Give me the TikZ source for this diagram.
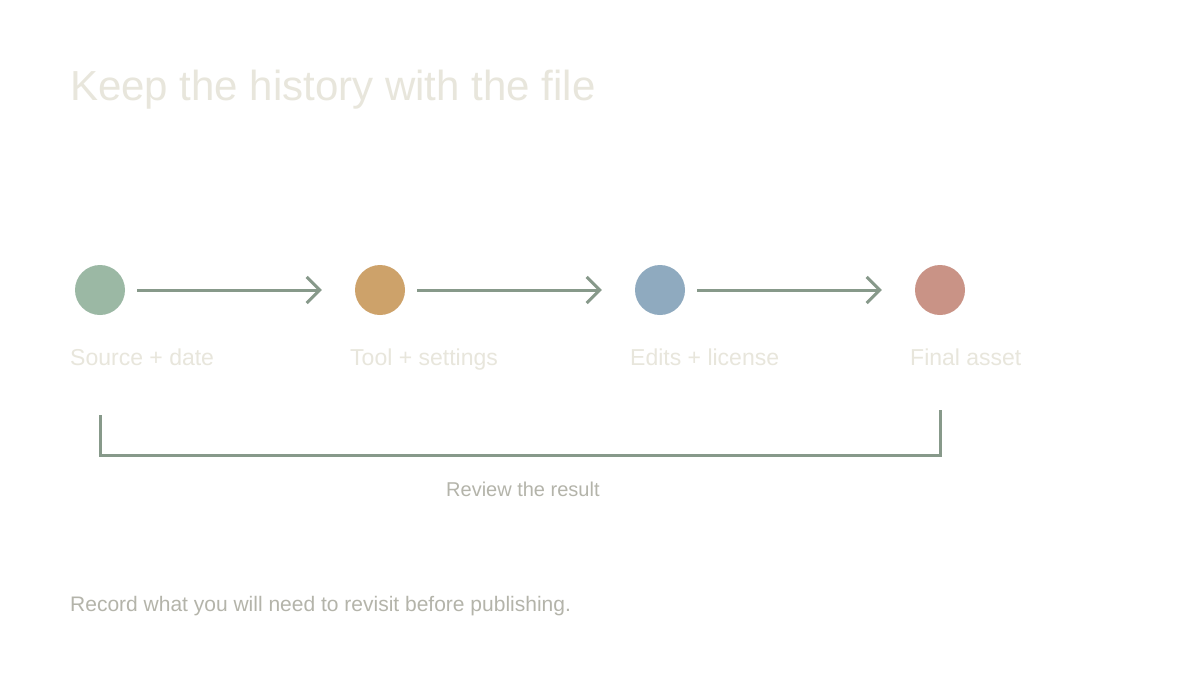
\documentclass[tikz,border=0pt]{standalone}
\usepackage{fontspec}
\setmainfont{Liberation Sans}
\usetikzlibrary{arrows.meta}
\definecolor{titlec}{HTML}{E8E6DC}
\definecolor{labelc}{HTML}{E8E6DC}
\definecolor{notec}{HTML}{B4B4AA}
\definecolor{linec}{HTML}{87998A}
\definecolor{cgreen}{HTML}{9BB8A4}
\definecolor{corange}{HTML}{CDA26A}
\definecolor{cblue}{HTML}{8FAABF}
\definecolor{cred}{HTML}{C99386}
\begin{document}
\begin{tikzpicture}[x=1pt,y=-1pt,
  dot/.style={circle,minimum size=50pt,inner sep=0pt,draw=none},
  lbl/.style={anchor=base west,inner sep=0pt,text=labelc,font=\fontsize{23}{27}\selectfont},
  flow/.style={draw=linec,line width=3pt,-{Straight Barb[length=13pt,width=26pt,line width=3pt]},shorten <=12pt,shorten >=33pt},
  brk/.style={draw=linec,line width=3pt,line join=miter},
  note/.style={anchor=base west,inner sep=0pt,text=notec}]
\useasboundingbox (0,0) rectangle (1200,675);
\fill[white] (0,0) rectangle (1200,675);
\node[anchor=base west,inner sep=0pt,text=titlec,font=\fontsize{42}{50}\selectfont] (title) at (70,100) {Keep the history with the file};
\node[dot,fill=cgreen] (c1) at (100,290) {};
\node[dot,fill=corange] (c2) at (380,290) {};
\node[dot,fill=cblue] (c3) at (660,290) {};
\node[dot,fill=cred] (c4) at (940,290) {};
\draw[flow] (c1.east) -- (c2.west);
\draw[flow] (c2.east) -- (c3.west);
\draw[flow] (c3.east) -- (c4.west);
\node[lbl] (l1) at (70,365) {Source + date};
\node[lbl] (l2) at (350,365) {Tool + settings};
\node[lbl] (l3) at (630,365) {Edits + license};
\node[lbl] (l4) at (910,365) {Final asset};
\coordinate (bt1) at (100,415);
\coordinate (bb1) at (100,455);
\coordinate (bb2) at (940,455);
\coordinate (bt2) at (940,410);
\draw[brk] (bt1) -- (bb1) -- (bb2) -- (bt2);
\node[note,font=\fontsize{20}{24}\selectfont] (rev) at (446,496) {Review the result};
\node[note,font=\fontsize{21}{25}\selectfont] (foot) at (70,611) {Record what you will need to revisit before publishing.};
\end{tikzpicture}
\end{document}
